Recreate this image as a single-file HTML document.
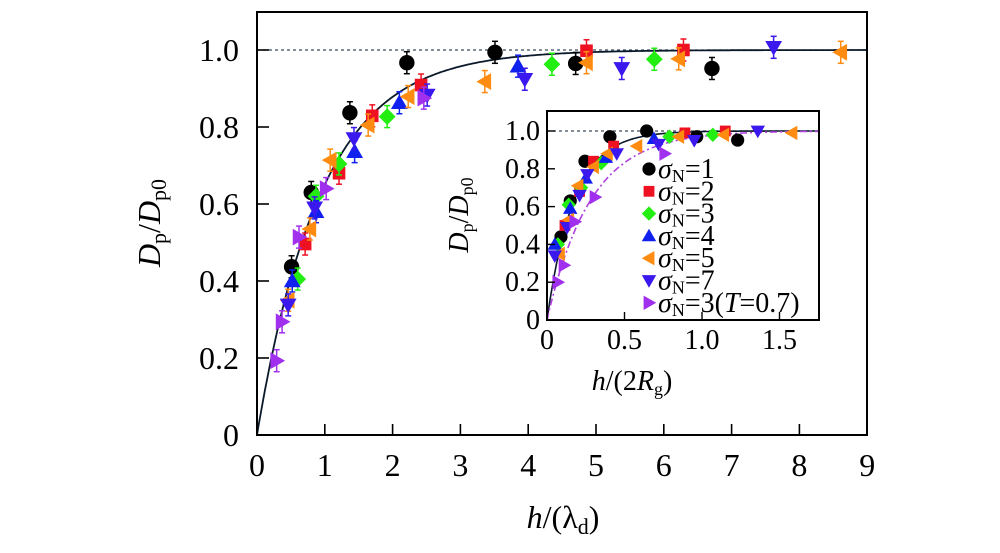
<!DOCTYPE html>
<html><head><meta charset="utf-8"><style>
html,body{margin:0;padding:0;background:#fff;font-family:"Liberation Serif","Times New Roman",Times,serif;}
svg{display:block;}
svg text{font-family:"Liberation Serif","Times New Roman",Times,serif !important;}
</style></head><body>
<svg id="chart" width="1000" height="553" viewBox="0 0 1000 553"></svg>
<script>
// ---- main plot data: [h/lambda_d, Dp/Dp0] ----
const mainXTicks = [0,1,2,3,4,5,6,7,8,9];
const mainYTicks = [0,0.2,0.4,0.6,0.8,1.0];
const mainYTickLabels = ["0","0.2","0.4","0.6","0.8","1.0"];
const mBlack  = [[0.51,0.437],[0.80,0.63],[1.37,0.837],[2.21,0.967],[3.51,0.994],[4.70,0.965],[6.71,0.952]];
const mRed    = [[0.71,0.496],[1.21,0.68],[1.70,0.829],[2.42,0.909],[4.86,0.998],[6.29,1.0]];
const mGreen  = [[0.60,0.405],[0.87,0.62],[1.21,0.704],[1.92,0.827],[4.35,0.963],[5.86,0.976]];
const mBlueUp = [[0.52,0.40],[0.87,0.58],[1.44,0.736],[2.10,0.863],[3.85,0.958]];
const mOrange = [[0.46,0.35],[0.78,0.535],[1.08,0.714],[1.64,0.805],[2.23,0.879],[3.36,0.918],[4.86,0.967],[6.22,0.977],[8.61,0.994]];
const mBlueDn = [[0.46,0.338],[0.85,0.59],[1.43,0.77],[2.51,0.883],[3.95,0.924],[5.38,0.952],[7.62,1.007]];
const mPurple = [[0.29,0.193],[0.37,0.294],[0.62,0.514],[1.02,0.64],[2.46,0.875]];
const mainLambda = [0.95];
// ---- inset data: [h/(2Rg), Dp/Dp0] ----
const insetXTicks = [0,0.5,1.0,1.5];
const insetXTickLabels = ["0","0.5","1.0","1.5"];
const insetYTicks = [0,0.2,0.4,0.6,0.8,1.0];
const insetYTickLabels = ["0","0.2","0.4","0.6","0.8","1.0"];
const iBlack  = [[0.09,0.44],[0.15,0.63],[0.245,0.84],[0.406,0.97],[0.643,1.0],[0.966,0.97],[1.23,0.952]];
const iRed    = [[0.116,0.5],[0.21,0.68],[0.30,0.84],[0.43,0.92],[0.89,0.99],[1.15,1.0]];
const iGreen  = [[0.07,0.40],[0.14,0.61],[0.22,0.70],[0.35,0.83],[0.79,0.97],[1.07,0.98]];
const iBlueUp = [[0.05,0.40],[0.15,0.59],[0.25,0.75],[0.38,0.86],[0.69,0.96]];
const iOrange = [[0.08,0.35],[0.14,0.53],[0.20,0.71],[0.30,0.81],[0.39,0.88],[0.58,0.92],[0.85,0.97],[1.14,0.98],[1.58,0.99]];
const iBlueDn = [[0.05,0.34],[0.13,0.49],[0.21,0.66],[0.26,0.77],[0.45,0.88],[0.72,0.93],[0.95,0.95],[1.36,1.0]];
const iPurple = [[0.07,0.20],[0.11,0.29],[0.18,0.52],[0.31,0.65],[0.76,0.88]];
const insetLambda = [0.174];
const insetLambdaT = [0.28];
const legendLabels = ["1","2","3","4","5","7","3"];

const NS="http://www.w3.org/2000/svg";
const svg=document.getElementById('chart');
const FF='"Liberation Serif","Times New Roman",Times,serif';
function mk(tag,attrs,parent){const e=document.createElementNS(NS,tag);for(const k in attrs)e.setAttribute(k,attrs[k]);if(tag==='text')e.style.fontFamily=FF;(parent||svg).appendChild(e);return e;}

const mx=v=>257+v*67.8, my=v=>435-v*385;
const ix=v=>547+v*155, iy=v=>320-v*189;

const colors={black:"#000",red:"#ee1122",green:"#22ee11",blueUp:"#1020ee",orange:"#ff8c10",blueDn:"#3b18ee",purple:"#a030ee"};

function marker(g,type,cx,cy,s,col){
  let e;
  if(type==='circle'){e=mk('circle',{cx:cx,cy:cy,r:s*0.55,fill:col},g);}
  else if(type==='square'){e=mk('rect',{x:cx-s*0.45,y:cy-s*0.45,width:s*0.9,height:s*0.9,fill:col},g);}
  else if(type==='diamond'){const r=s*0.6;e=mk('polygon',{points:`${cx},${cy-r} ${cx+r},${cy} ${cx},${cy+r} ${cx-r},${cy}`,fill:col},g);}
  else if(type==='up'){const r=s*0.6;e=mk('polygon',{points:`${cx},${cy-r} ${cx+r},${cy+r*0.75} ${cx-r},${cy+r*0.75}`,fill:col},g);}
  else if(type==='down'){const r=s*0.6;e=mk('polygon',{points:`${cx},${cy+r} ${cx+r},${cy-r*0.75} ${cx-r},${cy-r*0.75}`,fill:col},g);}
  else if(type==='left'){const r=s*0.6;e=mk('polygon',{points:`${cx-r},${cy} ${cx+r*0.75},${cy-r} ${cx+r*0.75},${cy+r}`,fill:col},g);}
  else if(type==='right'){const r=s*0.6;e=mk('polygon',{points:`${cx+r},${cy} ${cx-r*0.75},${cy-r} ${cx-r*0.75},${cy+r}`,fill:col},g);}
  return e;
}

const seriesMain=[["black","circle",mBlack],["red","square",mRed],["green","diamond",mGreen],["blueUp","up",mBlueUp],["orange","left",mOrange],["blueDn","down",mBlueDn],["purple","right",mPurple]];
const seriesInset=[["black","circle",iBlack],["red","square",iRed],["green","diamond",iGreen],["blueUp","up",iBlueUp],["orange","left",iOrange],["blueDn","down",iBlueDn],["purple","right",iPurple]];

// ---------- MAIN ----------
const main=mk('g',{});


const ref=mk('line',{x1:mx(0),x2:mx(9),y1:my(1),y2:my(1),stroke:"#3a4a5a","stroke-width":1.3,"stroke-dasharray":"3,3"},main);


let d="";for(let i=0;i<=300;i++){const h=9*i/300;d+=(i?"L":"M")+mx(h).toFixed(1)+","+my(1-Math.exp(-h/mainLambda[0])).toFixed(1);}
const fit=mk('path',{d:d,fill:"none",stroke:"#0a1a2a","stroke-width":1.8},main);


seriesMain.forEach(([c,t,arr])=>{
  const g=mk('g',{},main);
  
  
  arr.forEach(p=>{
    const X=mx(p[0]),Y=my(p[1]);
    mk('line',{x1:X,x2:X,y1:Y-11,y2:Y+11,stroke:colors[c],"stroke-width":1.5},g);
    mk('line',{x1:X-3,x2:X+3,y1:Y-11,y2:Y-11,stroke:colors[c],"stroke-width":1.5},g);
    mk('line',{x1:X-3,x2:X+3,y1:Y+11,y2:Y+11,stroke:colors[c],"stroke-width":1.5},g);
    const m=marker(g,t,X,Y,14,colors[c]);
    
    
  });
});
const frame=mk('rect',{x:257,y:12,width:610,height:423,fill:"none",stroke:"#000","stroke-width":2},main);


mainXTicks.forEach(v=>{
  mk('line',{x1:mx(v),x2:mx(v),y1:435,y2:424,stroke:"#000","stroke-width":1.6},main);
  const t=mk('text',{x:mx(v),y:476,"font-size":32,"text-anchor":"middle"},main);t.textContent=String(v);
  
  
});
mainYTicks.forEach((v,i)=>{
  mk('line',{x1:257,x2:269,y1:my(v),y2:my(v),stroke:"#000","stroke-width":1.6},main);
  const t=mk('text',{x:239,y:my(v)+11,"font-size":32,"text-anchor":"end"},main);t.textContent=mainYTickLabels[i];
  
  
});
const xt=mk('text',{x:563,y:528,"font-size":32,"text-anchor":"middle"},main);
xt.innerHTML='<tspan font-style="italic">h</tspan>/(λ<tspan font-size="22" dy="6">d</tspan><tspan dy="-6">)</tspan>';


const yt=mk('text',{x:0,y:0,"font-size":32,"text-anchor":"middle",transform:"translate(160,223) rotate(-90)"},main);
yt.innerHTML='<tspan font-style="italic">D</tspan><tspan font-size="22" dy="6">p</tspan><tspan dy="-6">/</tspan><tspan font-style="italic">D</tspan><tspan font-size="22" dy="6">p0</tspan>';



// ---------- INSET ----------
const inset=mk('g',{});


mk('rect',{x:547,y:111,width:272,height:209,fill:"#fff"},inset);
const iref=mk('line',{x1:ix(0),x2:ix(1.76),y1:iy(1),y2:iy(1),stroke:"#3a4a5a","stroke-width":1.3,"stroke-dasharray":"3,3"},inset);


let d2="",d3="";
for(let i=0;i<=200;i++){const h=1.76*i/200;d2+=(i?"L":"M")+ix(h).toFixed(1)+","+iy(1-Math.exp(-h/insetLambda[0])).toFixed(1);d3+=(i?"L":"M")+ix(h).toFixed(1)+","+iy(1-Math.exp(-h/insetLambdaT[0])).toFixed(1);}
const ifit=mk('path',{d:d2,fill:"none",stroke:"#0a1a2a","stroke-width":1.6},inset);


const ifit2=mk('path',{d:d3,fill:"none",stroke:"#b040e0","stroke-width":1.6,"stroke-dasharray":"7,3,2,3"},inset);


seriesInset.forEach(([c,t,arr])=>{
  const g=mk('g',{},inset);
  
  
  arr.forEach(p=>{
    const m=marker(g,t,ix(p[0]),iy(p[1]),12,colors[c]);
    
    
  });
});
const leg=mk('g',{},inset);


seriesInset.forEach(([c,t],i)=>{
  const y=169+i*22.3;
  const e=mk('g',{},leg);
  
  
  marker(e,t,649,y,12,colors[c]);
  const tx=mk('text',{x:658,y:y+9,"font-size":28},e);
  tx.innerHTML='<tspan font-style="italic">σ</tspan><tspan font-size="18" dy="4">N</tspan><tspan dy="-4">='+legendLabels[i]+(i===6?'(<tspan font-style="italic">T</tspan>=0.7)':'')+'</tspan>';
});
const iframe=mk('rect',{x:547,y:111,width:272,height:209,fill:"none",stroke:"#000","stroke-width":2},inset);


insetXTicks.forEach((v,i)=>{
  mk('line',{x1:ix(v),x2:ix(v),y1:320,y2:312,stroke:"#000","stroke-width":1.4},inset);
  const t=mk('text',{x:ix(v),y:349,"font-size":28,"text-anchor":"middle"},inset);t.textContent=insetXTickLabels[i];
  
  
});
insetYTicks.forEach((v,i)=>{
  mk('line',{x1:547,x2:555,y1:iy(v),y2:iy(v),stroke:"#000","stroke-width":1.4},inset);
  const t=mk('text',{x:540,y:iy(v)+9,"font-size":28,"text-anchor":"end"},inset);t.textContent=insetYTickLabels[i];
  
  
});
const ixt=mk('text',{x:632,y:390,"font-size":28,"text-anchor":"middle"},inset);
ixt.innerHTML='<tspan font-style="italic">h</tspan>/(2<tspan font-style="italic">R</tspan><tspan font-size="18" dy="5">g</tspan><tspan dy="-5">)</tspan>';


const iyt=mk('text',{x:0,y:0,"font-size":28,"text-anchor":"middle",transform:"translate(468,215) rotate(-90)"},inset);
iyt.innerHTML='<tspan font-style="italic">D</tspan><tspan font-size="18" dy="5">p</tspan><tspan dy="-5">/</tspan><tspan font-style="italic">D</tspan><tspan font-size="18" dy="5">p0</tspan>';


</script>
</body></html>
